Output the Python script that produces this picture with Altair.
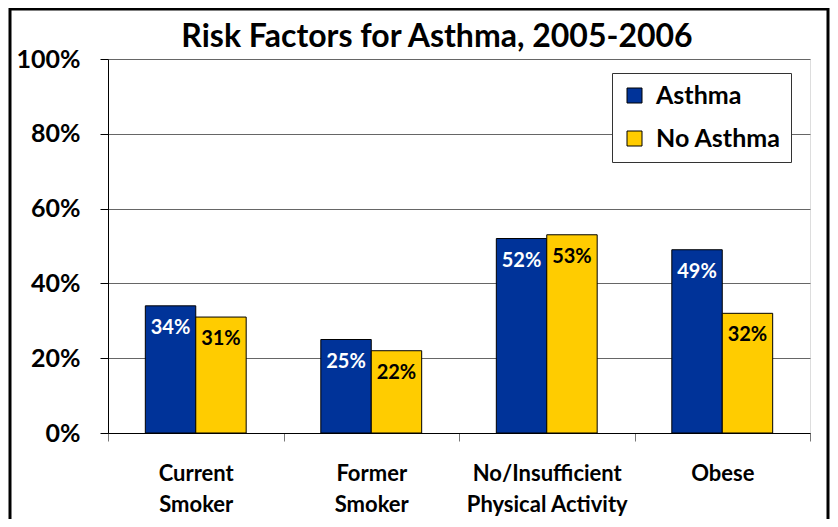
import altair as alt
import pandas as pd

categories = ["Current Smoker", "Former Smoker", "No/Insufficient Physical Activity", "Obese"]
groups = ["Asthma", "No Asthma"]
asthma = [34, 25, 52, 49]
no_asthma = [31, 22, 53, 32]
y_ticks = [0, 20, 40, 60, 80, 100]
colors = ["#003399", "#FFCC00"]

rows = []
for c, a, n in zip(categories, asthma, no_asthma):
    rows.append({"category": c, "group": groups[0], "value": a / 100, "label": f"{a}%"})
    rows.append({"category": c, "group": groups[1], "value": n / 100, "label": f"{n}%"})
df = pd.DataFrame(rows)

FONT = "Lato"

x_enc = alt.X(
    "category:N",
    sort=categories,
    scale=alt.Scale(paddingInner=0, paddingOuter=0),
    axis=alt.Axis(
        title=None,
        labelAngle=0,
        labelFont=FONT,
        labelFontSize=22,
        labelFontWeight="bold",
        labelColor="black",
        labelPadding=22,
        labelLineHeight=31,
        labelBaseline="top",
        labelExpr="!isValid(datum.value) ? '' : (datum.value == 'No/Insufficient Physical Activity' ? ['No/Insufficient', 'Physical Activity'] : split(datum.value, ' '))",
        tickBand="extent",
        tickSize=8,
        tickColor="#777",
        domainColor="black",
        grid=False,
    ),
)
xoff = alt.XOffset("group:N", sort=groups, scale=alt.Scale(paddingInner=0, paddingOuter=0.74))
y_enc = alt.Y(
    "value:Q",
    scale=alt.Scale(domain=[0, 1], nice=False),
    axis=alt.Axis(
        title=None,
        format=".0%",
        values=[v / 100 for v in y_ticks],
        labelFont=FONT,
        labelFontSize=25,
        labelFontWeight="bold",
        labelColor="black",
        labelPadding=20,
        tickSize=8,
        tickColor="black",
        domainColor="black",
        gridColor="#666",
        gridWidth=1,
    ),
)

bars = alt.Chart(df).mark_bar(stroke="black", strokeWidth=1).encode(
    x=x_enc,
    xOffset=xoff,
    y=y_enc,
    color=alt.Color(
        "group:N",
        sort=groups,
        scale=alt.Scale(domain=groups, range=colors),
        legend=alt.Legend(
            title=None,
            orient="none",
            legendX=504,
            legendY=14,
            fillColor="white",
            strokeColor="#333",
            padding=10,
            symbolType="square",
            symbolSize=225,
            symbolStrokeColor="black",
            symbolStrokeWidth=1,
            labelFont=FONT,
            labelFontSize=25,
            labelFontWeight="bold",
            labelColor="black",
            labelOffset=9,
            rowPadding=17,
        ),
    ),
)

labels = alt.Chart(df).mark_text(
    font=FONT, fontSize=20, fontWeight="bold", baseline="middle", dy=22
).encode(
    x=alt.X("category:N", sort=categories),
    xOffset=alt.XOffset("group:N", sort=groups),
    y="value:Q",
    text="label:N",
    color=alt.condition(alt.datum.group == "Asthma", alt.value("white"), alt.value("black")),
)

frame = alt.Chart(alt.Data(values=[{}])).mark_rect(
    fill=None, stroke="black", strokeWidth=3
).encode(
    x=alt.value(-98), x2=alt.value(720), y=alt.value(-50), y2=alt.value(470)
)

chart = alt.layer(bars, labels, frame).properties(
    width=702,
    height=374,
    title=alt.TitleParams(
        "Risk Factors for Asthma, 2005-2006",
        font=FONT,
        fontSize=32,
        fontWeight="bold",
        color="black",
        anchor="middle",
        dx=-22,
        offset=-46,
    ),
    autosize=alt.AutoSizeParams(type="none"),
    padding={"left": 100, "top": 51, "right": 20, "bottom": 86},
).configure_view(stroke="#888", strokeWidth=1).configure(background="white")

chart.save("out.html", embed_options={"renderer": "svg", "actions": False})
